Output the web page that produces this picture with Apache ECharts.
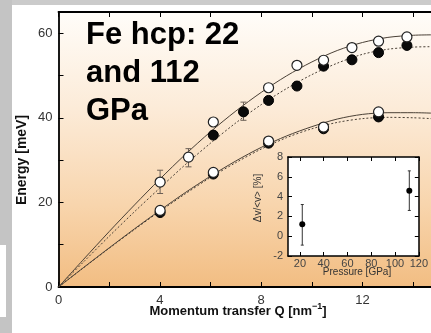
<!DOCTYPE html>
<html><head><meta charset="utf-8">
<script src="https://cdn.jsdelivr.net/npm/echarts@6/dist/echarts.min.js"></script>
<style>html,body{margin:0;padding:0;background:#fff}#c{width:431px;height:333px}</style>
</head><body><div id="c"></div>
<script>
// Phonon dispersion of hcp iron: upper (longitudinal) and lower (transverse) branches
const qOpenUpper   = [4.01, 5.13, 6.11, 8.29, 9.41, 10.46, 11.58, 12.63, 13.75];
const eOpenUpper   = [24.8, 30.7, 39.0, 47.1, 52.4, 53.6, 56.6, 58.1, 59.1];
const qFilledUpper = [6.11, 7.30, 8.29, 9.41, 10.46, 11.58, 12.63, 13.75];
const eFilledUpper = [35.9, 41.4, 44.1, 47.5, 52.2, 53.7, 55.4, 57.1];
const qLower       = [4.01, 6.11, 8.29, 10.46, 12.63];
const eOpenLower   = [18.1, 27.1, 34.5, 37.8, 41.4];
const eFilledLower = [17.6, 26.7, 34.0, 37.4, 40.2];

// vertical error bars: Q, lower, upper
const errQ    = [4.01, 5.13, 7.30];
const errLow  = [22.1, 28.4, 39.4];
const errHigh = [27.6, 32.7, 43.7];

// fitted dispersion curves
const qCurve      = [0, 1, 2, 3, 4, 5, 6, 7, 8, 9, 10, 11, 12, 13, 14, 14.7];
const solidUpper  = [0, 6.6, 13.1, 19.4, 25.5, 31.3, 36.7, 41.6, 46.0, 49.9, 53.2, 55.9, 57.8, 59.0, 59.5, 59.6];
const dottedUpper = [0, 6.0, 12.0, 17.8, 23.4, 28.9, 34.0, 38.8, 43.1, 46.9, 50.2, 52.9, 55.0, 56.2, 56.7, 56.8];
const solidLower  = [0, 4.65, 9.25, 13.75, 18.1, 22.3, 26.2, 29.8, 33.0, 35.7, 37.9, 39.7, 40.8, 41.2, 41.2, 41.1];
const dottedLower = [0, 4.6, 9.15, 13.6, 17.9, 22.0, 25.9, 29.4, 32.6, 35.3, 37.4, 38.9, 39.8, 40.1, 40.0, 39.8];

// inset: relative velocity change vs pressure
const pressure  = [22, 112];
const dvRel     = [1.2, 4.6];
const dvRelLow  = [-0.9, 2.6];
const dvRelHigh = [3.2, 6.6];

// tick values
const qTicks = [0, 2, 4, 6, 8, 10, 12, 14];
const qLabels = [0, 4, 8, 12];
const eTicks = [0, 10, 20, 30, 40, 50, 60];
const eLabels = [0, 20, 40, 60];
const pTicks = [20, 40, 60, 80, 100, 120];
const dvTicks = [-2, 0, 2, 4, 6, 8];

const FONT = '"Liberation Sans", Arial, sans-serif';
const zip = (xs, ys) => xs.map((x, i) => [x, ys[i]]);

function frameAxis(extra) {
  return Object.assign({
    type: 'value',
    splitLine: { show: false },
    axisLine: { show: true, onZero: false, lineStyle: { color: '#000', width: 1.8 } },
    axisTick: { show: true, inside: true, length: 5, lineStyle: { color: '#000', width: 1 } },
    axisLabel: { show: false }
  }, extra);
}

function errorBars(xIdx, yIdx, data, capW, color, z) {
  return {
    type: 'custom', xAxisIndex: xIdx, yAxisIndex: yIdx, z: z,
    data: data,
    renderItem: function (params, api) {
      const lo = api.coord([api.value(0), api.value(1)]);
      const hi = api.coord([api.value(0), api.value(2)]);
      const st = { stroke: color, lineWidth: 1 };
      const kids = [{ type: 'line', shape: { x1: lo[0], y1: lo[1], x2: hi[0], y2: hi[1] }, style: st }];
      if (capW > 0) {
        kids.push({ type: 'line', shape: { x1: lo[0] - capW, y1: lo[1], x2: lo[0] + capW, y2: lo[1] }, style: st });
        kids.push({ type: 'line', shape: { x1: hi[0] - capW, y1: hi[1], x2: hi[0] + capW, y2: hi[1] }, style: st });
      }
      return { type: 'group', children: kids };
    }
  };
}

function curve(ys, dashed) {
  return {
    type: 'line', xAxisIndex: 0, yAxisIndex: 0, data: zip(qCurve, ys),
    smooth: 0.3, showSymbol: false, silent: true, z: 2,
    lineStyle: { color: '#4a4036', width: 1, type: dashed ? [2, 2] : 'solid' }
  };
}

function markers(xs, ys, filled) {
  return {
    type: 'scatter', xAxisIndex: 0, yAxisIndex: 0, data: zip(xs, ys),
    symbol: 'circle', symbolSize: 10, z: filled ? 4 : 5,
    itemStyle: filled
      ? { color: '#0a0a0a', borderColor: '#000', borderWidth: 1, opacity: 1 }
      : { color: '#fff', borderColor: '#222', borderWidth: 1.2, opacity: 1 }
  };
}

const chart = echarts.init(document.getElementById('c'), null, { renderer: 'canvas' });
chart.setOption({
  backgroundColor: '#ffffff',
  animation: false,
  grid: [
    { left: 58.5, top: 12, right: 0, bottom: 46, show: true, borderWidth: 0,
      backgroundColor: new echarts.graphic.LinearGradient(0, 0, 0, 1, [
        { offset: 0, color: '#fffdf9' },
        { offset: 0.35, color: '#fcebd8' },
        { offset: 0.7, color: '#f8d5ad' },
        { offset: 1, color: '#f2bd82' }
      ]) },
    { left: 288, top: 157, width: 136, height: 99, show: true, borderWidth: 0, backgroundColor: '#ffffff', z: 6 }
  ],
  xAxis: [
    frameAxis({ gridIndex: 0, position: 'bottom', min: 0, max: 14.7,
      axisTick: { show: true, inside: true, length: 5, customValues: qTicks, lineStyle: { color: '#000' } },
      axisLabel: { show: true, customValues: qLabels, color: '#333', fontSize: 13, fontFamily: FONT, margin: 7 } }),
    frameAxis({ gridIndex: 0, position: 'top', min: 0, max: 14.7,
      axisTick: { show: true, inside: true, length: 5, customValues: qTicks, lineStyle: { color: '#000' } } }),
    frameAxis({ gridIndex: 1, position: 'bottom', min: 10, max: 120, z: 7,
      axisLine: { show: true, onZero: false, lineStyle: { color: '#000', width: 1.5 } },
      axisTick: { show: true, inside: true, length: 4, customValues: pTicks, lineStyle: { color: '#000' } },
      axisLabel: { show: true, customValues: pTicks, color: '#444', fontSize: 11, fontFamily: FONT, margin: 2 } }),
    frameAxis({ gridIndex: 1, position: 'top', min: 10, max: 120, z: 7,
      axisLine: { show: true, onZero: false, lineStyle: { color: '#000', width: 1.5 } },
      axisTick: { show: true, inside: true, length: 4, customValues: pTicks, lineStyle: { color: '#000' } } })
  ],
  yAxis: [
    frameAxis({ gridIndex: 0, position: 'left', min: 0, max: 65,
      axisTick: { show: true, inside: true, length: 5, customValues: eTicks, lineStyle: { color: '#000' } },
      axisLabel: { show: true, customValues: eLabels, color: '#333', fontSize: 13, fontFamily: FONT, margin: 6 } }),
    frameAxis({ gridIndex: 1, position: 'left', min: -2, max: 8, z: 7,
      axisLine: { show: true, onZero: false, lineStyle: { color: '#000', width: 1.5 } },
      axisTick: { show: true, inside: true, length: 4, customValues: dvTicks, lineStyle: { color: '#000' } },
      axisLabel: { show: true, customValues: dvTicks, color: '#444', fontSize: 11, fontFamily: FONT, margin: 5 } }),
    frameAxis({ gridIndex: 1, position: 'right', min: -2, max: 8, z: 7,
      axisLine: { show: true, onZero: false, lineStyle: { color: '#000', width: 1.5 } },
      axisTick: { show: true, inside: true, length: 4, customValues: dvTicks, lineStyle: { color: '#000' } } })
  ],
  series: [
    curve(solidUpper, false),
    curve(dottedUpper, true),
    curve(solidLower, false),
    curve(dottedLower, true),
    errorBars(0, 0, errQ.map((q, i) => [q, errLow[i], errHigh[i]]), 3, '#6b5f55', 3),
    markers(qFilledUpper, eFilledUpper, true),
    markers(qOpenUpper, eOpenUpper, false),
    markers(qLower, eFilledLower, true),
    markers(qLower, eOpenLower, false),
    errorBars(2, 1, pressure.map((p, i) => [p, dvRelLow[i], dvRelHigh[i]]), 1.5, '#333', 9),
    { type: 'scatter', xAxisIndex: 2, yAxisIndex: 1, data: zip(pressure, dvRel),
      symbol: 'circle', symbolSize: 6, z: 10, itemStyle: { color: '#000', opacity: 1 } }
  ],
  graphic: [
    // slide backdrop around the figure
    { type: 'rect', z: -10, shape: { x: 0, y: 0, width: 431, height: 5 }, style: { fill: '#cbcbcb' } },
    { type: 'rect', z: -10, shape: { x: 0, y: 0, width: 12, height: 333 }, style: { fill: '#c4c4c4' } },
    { type: 'rect', z: -9, shape: { x: 0, y: 245, width: 6, height: 72 }, style: { fill: '#ffffff' } },
    // heading
    { type: 'text', z: 20, x: 86, y: 16,
      style: { text: 'Fe hcp: 22\nand 112\nGPa', font: 'bold 31px ' + FONT, fill: '#000',
               lineHeight: 38, verticalAlign: 'top', align: 'left' } },
    // axis titles
    { type: 'text', z: 20, x: 22, y: 160, rotation: Math.PI / 2,
      style: { text: 'Energy [meV]', font: 'bold 14px ' + FONT, fill: '#111', align: 'center', verticalAlign: 'middle' } },
    { type: 'text', z: 20, x: 238, y: 311,
      style: { text: '{a|Momentum transfer Q [nm}{s|−1}{a|]}', align: 'center', verticalAlign: 'middle',
        rich: {
          a: { font: 'bold 13px ' + FONT, fill: '#111', lineHeight: 18 },
          s: { font: 'bold 9px ' + FONT, fill: '#111', lineHeight: 18, padding: [0, 0, 8, 0] }
        } } },
    { type: 'text', z: 20, x: 258, y: 198, rotation: Math.PI / 2,
      style: { text: 'Δv/<v> [%]', font: '10px ' + FONT, fill: '#333', align: 'center', verticalAlign: 'middle' } },
    { type: 'text', z: 20, x: 357, y: 272,
      style: { text: 'Pressure [GPa]', font: '10px ' + FONT, fill: '#333', align: 'center', verticalAlign: 'middle' } }
  ]
});
</script>
</body></html>
